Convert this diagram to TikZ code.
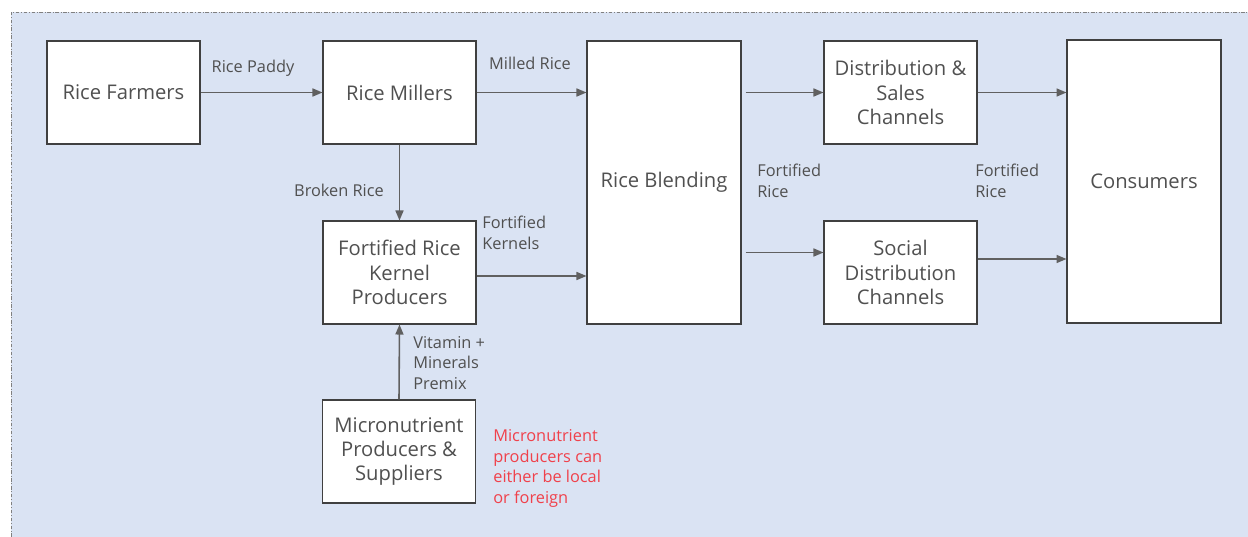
\documentclass[tikz,border=0pt]{standalone}
\usepackage{fontspec}
\setmainfont{Open Sans}
\usetikzlibrary{arrows.meta}
\definecolor{bgblue}{HTML}{DAE3F3}
\definecolor{boxline}{HTML}{404040}
\definecolor{txtgray}{HTML}{505050}
\definecolor{arrowgray}{HTML}{606060}
\definecolor{notered}{HTML}{F0414B}

\begin{document}
\begin{tikzpicture}[x=0.02cm, y=-0.02cm,
    stage/.style={draw=boxline, fill=white, line width=0.6pt, text=txtgray, align=center,
        minimum width=3.06cm, minimum height=2.06cm, inner sep=0pt,
        font=\fontsize{11.5}{13.9}\selectfont},
    tallstage/.style={stage, minimum width=3.08cm, minimum height=5.66cm},
    flow/.style={arrowgray, line width=0.9pt, -{Triangle[length=0.2cm,width=0.16cm]}},
    flowlabel/.style={text=txtgray, align=left, inner sep=0pt,
        font=\fontsize{9.3}{11.9}\selectfont}]
                % Background
                \useasboundingbox (0,0) rectangle (1248,537);
                \fill [bgblue] (11,12) rectangle (1248,537);
                \draw [gray, line width=0.5pt, dash pattern=on 2pt off 1pt on 0.5pt off 1pt] (11,537) -- (11,12) -- (1248,12);
                % Stages
                \node [stage] (farmers) at (123.5,92.5) {Rice Farmers};
                \node [stage] (millers) at (399.5,92.5) {Rice Millers};
                \node [stage] (kernels) at (399.5,272.5) {Fortified Rice\\Kernel\\Producers};
                \node [stage] (micro) at (399,451.5) {Micronutrient\\Producers \&\\Suppliers};
                \node [tallstage] (blending) at (664,182.5) {Rice Blending};
                \node [stage] (sales) at (900.5,92.5) {Distribution \&\\Sales\\Channels};
                \node [stage] (social) at (900.5,272.5) {Social\\Distribution\\Channels};
                \node [tallstage] (consumers) at (1144,181.5) {Consumers};
                % Flows
                \draw [flow] (farmers.east) -- (millers.west);
                \draw [flow] (millers.east) -- (millers.east -| blending.west);
                \draw [flow] (millers.south) -- (kernels.north);
                \draw [flow] (micro.north) -- (kernels.south);
                \coordinate (kernelsout) at ([yshift=-0.07cm]kernels.east);
                \draw [flow] (kernelsout) -- (kernelsout -| blending.west);
                \draw [flow, shorten <=0.08cm] (sales.west -| blending.east) -- (sales.west);
                \coordinate (socialin) at ([yshift=0.4cm]social.west);
                \draw [flow, shorten <=0.08cm] (socialin -| blending.east) -- (socialin);
                \draw [flow] (sales.east) -- (sales.east -| consumers.west);
                \coordinate (socialout) at ([yshift=0.27cm]social.east);
                \draw [flow] (socialout) -- (socialout -| consumers.west);
                % Flow labels
                \node [flowlabel] (paddy) at (253,68) {Rice Paddy};
                \node [flowlabel] (milled) at (530,63) {Milled Rice};
                \node [flowlabel] (broken) at (339,190) {Broken Rice};
                \node [flowlabel, anchor=west] (fkernels) at (482,232.5) {Fortified\\Kernels};
                \node [flowlabel, anchor=west] (premix) at (413,363) {Vitamin +\\Minerals\\Premix};
                \node [flowlabel, anchor=west] (frice1) at (757,180.5) {Fortified\\Rice};
                \node [flowlabel, anchor=west] (frice2) at (975,180.5) {Fortified\\Rice};
                % Note
                \node [flowlabel, anchor=west, text=notered, font=\fontsize{9.3}{11.7}\selectfont] (note) at (493,468.5) {Micronutrient\\producers can\\either be local\\or foreign};
            \end{tikzpicture}
\end{document}
